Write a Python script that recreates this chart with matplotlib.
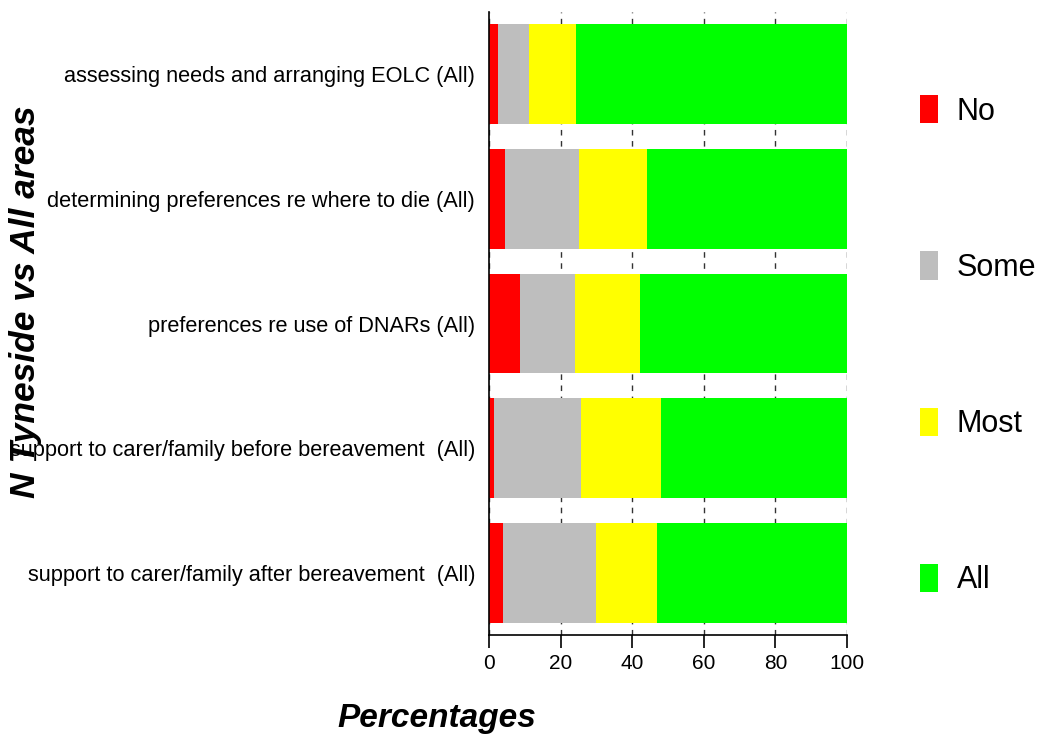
import numpy as np
import matplotlib.pyplot as plt
from matplotlib.patches import Patch

plt.rcParams['font.family'] = ['Liberation Sans', 'DejaVu Sans']

questions = ['assessing needs and arranging EOLC (All)',
             'determining preferences re where to die (All)',
             'preferences re use of DNARs (All)',
             'support to carer/family before bereavement  (All)',
             'support to carer/family after bereavement  (All)']
levels = ['No', 'Some', 'Most', 'All']
colours = ['#ff0000', '#bebebe', '#ffff00', '#00ff00']

no = [2.6, 4.6, 8.6, 1.3, 3.8]
some = [8.7, 20.5, 15.4, 24.5, 26.0]
most = [13.1, 19.0, 18.3, 22.2, 17.0]
all_ = [75.6, 55.9, 57.7, 52.0, 53.2]

series = [no, some, most, all_]

fig = plt.figure(figsize=(10.4, 7.36), dpi=100)
ax = fig.add_axes([0.4702, 0.1372, 0.3442, 0.8465])

ypos = np.arange(len(questions))
left = np.zeros(len(questions))
for vals, lab, col in zip(series, levels, colours):
    ax.barh(ypos, vals, left=left, height=0.8, color=col, label=lab, zorder=2)
    left = left + np.array(vals)

ax.set_xlim(0, 100)
ax.set_ylim(len(questions) - 0.5, -0.5)
ax.set_xticks([0, 20, 40, 60, 80, 100])
ax.set_yticks(ypos)
ax.set_yticklabels(questions, fontsize=15.7)
ax.tick_params(axis='y', length=0, pad=10)
ax.tick_params(axis='x', direction='out', length=9.5, width=1.2, labelsize=15, pad=4)
ax.grid(axis='x', color='#333333', linestyle=(0, (4, 4)), linewidth=1, zorder=1)
ax.set_axisbelow(True)
for s in ['top', 'right']:
    ax.spines[s].set_visible(False)
for s in ['left', 'bottom']:
    ax.spines[s].set_linewidth(1.2)

fig.text(0.025, 0.59, 'N Tyneside vs All areas', rotation=90, fontsize=25.5,
         fontweight='bold', fontstyle='italic', ha='center', va='center')
fig.text(0.42, 0.012, 'Percentages', fontsize=24, fontweight='bold',
         fontstyle='italic', ha='center', va='baseline')

handles = [Patch(facecolor=c, edgecolor='none', label=l) for l, c in zip(levels, colours)]
fig.legend(handles=handles, loc='center left', bbox_to_anchor=(0.858, 0.531),
           frameon=False, fontsize=22, handlelength=0.6, handleheight=1.05,
           handletextpad=0.6, labelspacing=4.08)

fig.savefig('out.png', dpi=100)
